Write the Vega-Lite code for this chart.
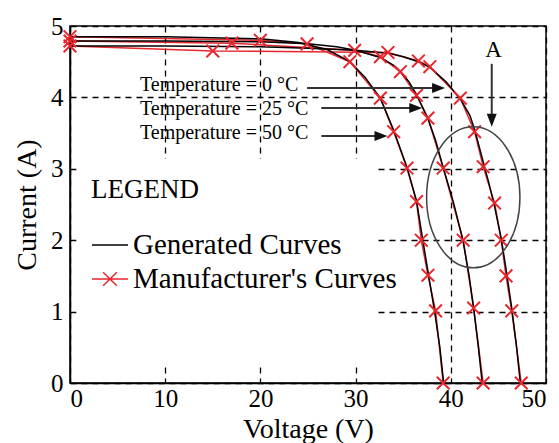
{
  "$schema": "https://vega.github.io/schema/vega-lite/v6.json",
  "width": 476,
  "height": 357,
  "autosize": "none",
  "padding": {"left": 70, "top": 26, "right": 13, "bottom": 60},
  "background": "white",
  "config": {
    "view": {"stroke": "black", "strokeWidth": 1.5},
    "font": "Liberation Serif",
    "axis": {
      "domainColor": "black", "domainWidth": 1.5, "ticks": false,
      "labelFont": "Liberation Serif", "labelFontSize": 25, "labelColor": "black",
      "titleFont": "Liberation Serif", "titleFontSize": 28, "titleFontWeight": "normal", "titleColor": "black",
      "grid": true, "gridColor": "black", "gridDash": [6, 5], "gridWidth": 1.3, "gridOpacity": 1
    },
    "axisX": {"labelPadding": 3, "titlePadding": 4},
    "axisY": {"labelPadding": 7, "titlePadding": 9}
  },
  "datasets": {
    "box": [{"V": 0.7, "V2": 32.2, "I": 0.28, "I2": 3.14}],
    "curves": [
      {"series": "Manufacturer's Curves", "temp": "0", "V": 0, "I": 4.72},
      {"series": "Manufacturer's Curves", "temp": "0", "V": 15, "I": 4.65},
      {"series": "Manufacturer's Curves", "temp": "0", "V": 33.4, "I": 4.63},
      {"series": "Manufacturer's Curves", "temp": "0", "V": 36.6, "I": 4.51},
      {"series": "Manufacturer's Curves", "temp": "0", "V": 37.8, "I": 4.43},
      {"series": "Manufacturer's Curves", "temp": "0", "V": 41.0, "I": 3.99},
      {"series": "Manufacturer's Curves", "temp": "0", "V": 42.5, "I": 3.52},
      {"series": "Manufacturer's Curves", "temp": "0", "V": 43.4, "I": 3.03},
      {"series": "Manufacturer's Curves", "temp": "0", "V": 44.6, "I": 2.52},
      {"series": "Manufacturer's Curves", "temp": "0", "V": 45.3, "I": 2.0},
      {"series": "Manufacturer's Curves", "temp": "0", "V": 45.8, "I": 1.5},
      {"series": "Manufacturer's Curves", "temp": "0", "V": 46.4, "I": 1.01},
      {"series": "Manufacturer's Curves", "temp": "0", "V": 47.4, "I": 0},
      {"series": "Manufacturer's Curves", "temp": "25", "V": 0, "I": 4.79},
      {"series": "Manufacturer's Curves", "temp": "25", "V": 17, "I": 4.76},
      {"series": "Manufacturer's Curves", "temp": "25", "V": 29.9, "I": 4.66},
      {"series": "Manufacturer's Curves", "temp": "25", "V": 32.6, "I": 4.57},
      {"series": "Manufacturer's Curves", "temp": "25", "V": 34.7, "I": 4.36},
      {"series": "Manufacturer's Curves", "temp": "25", "V": 36.4, "I": 4.03},
      {"series": "Manufacturer's Curves", "temp": "25", "V": 37.6, "I": 3.71},
      {"series": "Manufacturer's Curves", "temp": "25", "V": 39.2, "I": 3.01},
      {"series": "Manufacturer's Curves", "temp": "25", "V": 41.3, "I": 2.0},
      {"series": "Manufacturer's Curves", "temp": "25", "V": 42.4, "I": 1.05},
      {"series": "Manufacturer's Curves", "temp": "25", "V": 43.4, "I": 0},
      {"series": "Manufacturer's Curves", "temp": "50", "V": 0, "I": 4.85},
      {"series": "Manufacturer's Curves", "temp": "50", "V": 20, "I": 4.8},
      {"series": "Manufacturer's Curves", "temp": "50", "V": 24.9, "I": 4.75},
      {"series": "Manufacturer's Curves", "temp": "50", "V": 29.4, "I": 4.5},
      {"series": "Manufacturer's Curves", "temp": "50", "V": 32.6, "I": 3.99},
      {"series": "Manufacturer's Curves", "temp": "50", "V": 34.0, "I": 3.52},
      {"series": "Manufacturer's Curves", "temp": "50", "V": 35.4, "I": 3.01},
      {"series": "Manufacturer's Curves", "temp": "50", "V": 36.4, "I": 2.54},
      {"series": "Manufacturer's Curves", "temp": "50", "V": 36.9, "I": 2.0},
      {"series": "Manufacturer's Curves", "temp": "50", "V": 37.6, "I": 1.51},
      {"series": "Manufacturer's Curves", "temp": "50", "V": 38.4, "I": 1.01},
      {"series": "Manufacturer's Curves", "temp": "50", "V": 39.2, "I": 0},
      {"series": "Generated Curves", "temp": "0", "V": 0, "I": 4.72},
      {"series": "Generated Curves", "temp": "0", "V": 10, "I": 4.72},
      {"series": "Generated Curves", "temp": "0", "V": 20, "I": 4.71},
      {"series": "Generated Curves", "temp": "0", "V": 25, "I": 4.69},
      {"series": "Generated Curves", "temp": "0", "V": 30, "I": 4.66},
      {"series": "Generated Curves", "temp": "0", "V": 33.4, "I": 4.62},
      {"series": "Generated Curves", "temp": "0", "V": 35, "I": 4.57},
      {"series": "Generated Curves", "temp": "0", "V": 36.6, "I": 4.5},
      {"series": "Generated Curves", "temp": "0", "V": 37.8, "I": 4.42},
      {"series": "Generated Curves", "temp": "0", "V": 39.5, "I": 4.22},
      {"series": "Generated Curves", "temp": "0", "V": 41, "I": 3.98},
      {"series": "Generated Curves", "temp": "0", "V": 42, "I": 3.75},
      {"series": "Generated Curves", "temp": "0", "V": 42.5, "I": 3.55},
      {"series": "Generated Curves", "temp": "0", "V": 43.4, "I": 3.1},
      {"series": "Generated Curves", "temp": "0", "V": 44.0, "I": 2.8},
      {"series": "Generated Curves", "temp": "0", "V": 44.6, "I": 2.47},
      {"series": "Generated Curves", "temp": "0", "V": 45.3, "I": 2.02},
      {"series": "Generated Curves", "temp": "0", "V": 45.8, "I": 1.6},
      {"series": "Generated Curves", "temp": "0", "V": 46.4, "I": 1.05},
      {"series": "Generated Curves", "temp": "0", "V": 46.9, "I": 0.52},
      {"series": "Generated Curves", "temp": "0", "V": 47.3, "I": 0},
      {"series": "Generated Curves", "temp": "25", "V": 0, "I": 4.79},
      {"series": "Generated Curves", "temp": "25", "V": 10, "I": 4.79},
      {"series": "Generated Curves", "temp": "25", "V": 20, "I": 4.78},
      {"series": "Generated Curves", "temp": "25", "V": 25, "I": 4.75},
      {"series": "Generated Curves", "temp": "25", "V": 28, "I": 4.71},
      {"series": "Generated Curves", "temp": "25", "V": 30, "I": 4.66},
      {"series": "Generated Curves", "temp": "25", "V": 32.6, "I": 4.56},
      {"series": "Generated Curves", "temp": "25", "V": 34, "I": 4.45},
      {"series": "Generated Curves", "temp": "25", "V": 34.7, "I": 4.36},
      {"series": "Generated Curves", "temp": "25", "V": 35.6, "I": 4.22},
      {"series": "Generated Curves", "temp": "25", "V": 36.4, "I": 4.04},
      {"series": "Generated Curves", "temp": "25", "V": 37.6, "I": 3.7},
      {"series": "Generated Curves", "temp": "25", "V": 38.4, "I": 3.4},
      {"series": "Generated Curves", "temp": "25", "V": 39.2, "I": 3.02},
      {"series": "Generated Curves", "temp": "25", "V": 40.3, "I": 2.52},
      {"series": "Generated Curves", "temp": "25", "V": 41.3, "I": 1.98},
      {"series": "Generated Curves", "temp": "25", "V": 41.9, "I": 1.52},
      {"series": "Generated Curves", "temp": "25", "V": 42.4, "I": 1.05},
      {"series": "Generated Curves", "temp": "25", "V": 42.9, "I": 0.5},
      {"series": "Generated Curves", "temp": "25", "V": 43.3, "I": 0},
      {"series": "Generated Curves", "temp": "50", "V": 0, "I": 4.85},
      {"series": "Generated Curves", "temp": "50", "V": 10, "I": 4.85},
      {"series": "Generated Curves", "temp": "50", "V": 20, "I": 4.82},
      {"series": "Generated Curves", "temp": "50", "V": 24, "I": 4.77},
      {"series": "Generated Curves", "temp": "50", "V": 27, "I": 4.67},
      {"series": "Generated Curves", "temp": "50", "V": 29.4, "I": 4.5},
      {"series": "Generated Curves", "temp": "50", "V": 31, "I": 4.28},
      {"series": "Generated Curves", "temp": "50", "V": 32.6, "I": 3.99},
      {"series": "Generated Curves", "temp": "50", "V": 34, "I": 3.54},
      {"series": "Generated Curves", "temp": "50", "V": 35.4, "I": 3.02},
      {"series": "Generated Curves", "temp": "50", "V": 36.4, "I": 2.55},
      {"series": "Generated Curves", "temp": "50", "V": 37.0, "I": 2.05},
      {"series": "Generated Curves", "temp": "50", "V": 37.65, "I": 1.52},
      {"series": "Generated Curves", "temp": "50", "V": 38.3, "I": 1.0},
      {"series": "Generated Curves", "temp": "50", "V": 38.85, "I": 0.5},
      {"series": "Generated Curves", "temp": "50", "V": 39.25, "I": 0}
    ],
    "labels": [
      {"text": "Temperature = 0 °C", "V": 7.35, "I": 4.18},
      {"text": "Temperature = 25 °C", "V": 7.35, "I": 3.84},
      {"text": "Temperature = 50 °C", "V": 7.35, "I": 3.5}
    ],
    "arrows": [
      {"V": 24.9, "I": 4.13, "V2": 39.0, "I2": 4.13},
      {"V": 26.4, "I": 3.85, "V2": 36.6, "I2": 3.85},
      {"V": 26.4, "I": 3.46, "V2": 32.9, "I2": 3.46},
      {"V": 44.3, "I": 4.47, "V2": 44.3, "I2": 3.75}
    ],
    "heads": [
      {"V": 39.4, "I": 4.13, "dir": "right"},
      {"V": 37.0, "I": 3.85, "dir": "right"},
      {"V": 33.35, "I": 3.46, "dir": "right"},
      {"V": 44.3, "I": 3.59, "dir": "down"}
    ],
    "notes": [{"text": "A", "V": 44.5, "I": 4.66}],
    "ellipse": [{"V": 42.36, "I": 2.6}]
  },
  "layer": [
    {
      "data": {"name": "box"},
      "mark": {"type": "rect", "fill": "white", "stroke": null},
      "encoding": {
        "x": {"field": "V", "type": "quantitative", "scale": {"domain": [0, 50], "nice": false}, "axis": {"values": [0, 10, 20, 30, 40, 50], "format": "d", "title": "Voltage (V)"}},
        "x2": {"field": "V2"},
        "y": {"field": "I", "type": "quantitative", "scale": {"domain": [0, 5], "nice": false}, "axis": {"values": [0, 1, 2, 3, 4, 5], "format": "d", "title": "Current (A)"}},
        "y2": {"field": "I2"}
      }
    },
    {
      "data": {"name": "curves"},
      "transform": [{"filter": "datum.series === \"Manufacturer's Curves\""}],
      "mark": {"type": "line", "strokeWidth": 1.5},
      "encoding": {
        "x": {"field": "V", "type": "quantitative", "title": "Voltage (V)"},
        "y": {"field": "I", "type": "quantitative", "title": "Current (A)"},
        "detail": {"field": "temp"},
        "color": {
          "field": "series", "type": "nominal",
          "scale": {"domain": ["Generated Curves", "Manufacturer's Curves"], "range": ["black", "#e8262d"]},
          "legend": {
            "orient": "none", "legendX": 21, "legendY": 151, "title": "LEGEND",
            "titleFont": "Liberation Serif", "titleFontSize": 27, "titleFontWeight": "normal", "titleColor": "black", "titlePadding": 22,
            "labelFont": "Liberation Serif", "labelFontSize": 29, "labelColor": "black", "labelOffset": 4, "labelLimit": 400,
            "symbolType": "stroke", "symbolSize": 1296, "symbolStrokeWidth": 1.5, "rowPadding": 0, "padding": 0,
            "encoding": {"symbols": {"shape": {"condition": {"test": "datum.value === \"Manufacturer's Curves\"", "value": "M-1,0L1,0M-0.38,-0.38L0.38,0.38M-0.38,0.38L0.38,-0.38"}, "value": "stroke"}}}
          }
        }
      }
    },
    {
      "data": {"name": "curves"},
      "transform": [{"filter": "datum.series === 'Generated Curves'"}],
      "mark": {"type": "line", "strokeWidth": 1.5},
      "encoding": {
        "x": {"field": "V", "type": "quantitative", "title": "Voltage (V)"},
        "y": {"field": "I", "type": "quantitative", "title": "Current (A)"},
        "detail": {"field": "temp"},
        "color": {"field": "series", "type": "nominal"}
      }
    },
    {
      "data": {"name": "curves"},
      "transform": [{"filter": "datum.series === \"Manufacturer's Curves\""}],
      "mark": {"type": "point", "shape": "M-1,-1L1,1M-1,1L1,-1", "size": 160, "filled": false, "stroke": "#e8262d", "strokeWidth": 2, "opacity": 1},
      "encoding": {
        "x": {"field": "V", "type": "quantitative", "title": "Voltage (V)"},
        "y": {"field": "I", "type": "quantitative", "title": "Current (A)"}
      }
    },
    {
      "data": {"name": "labels"},
      "mark": {"type": "text", "align": "left", "baseline": "middle", "font": "Liberation Serif", "fontSize": 20, "color": "black"},
      "encoding": {
        "x": {"field": "V", "type": "quantitative", "title": "Voltage (V)"},
        "y": {"field": "I", "type": "quantitative", "title": "Current (A)"},
        "text": {"field": "text"}
      }
    },
    {
      "data": {"name": "arrows"},
      "mark": {"type": "rule", "color": "#333333", "strokeWidth": 2},
      "encoding": {
        "x": {"field": "V", "type": "quantitative", "title": "Voltage (V)"},
        "y": {"field": "I", "type": "quantitative", "title": "Current (A)"},
        "x2": {"field": "V2"},
        "y2": {"field": "I2"}
      }
    },
    {
      "data": {"name": "heads"},
      "mark": {"type": "point", "filled": true, "size": 169, "color": "#111111", "opacity": 1},
      "encoding": {
        "x": {"field": "V", "type": "quantitative", "title": "Voltage (V)"},
        "y": {"field": "I", "type": "quantitative", "title": "Current (A)"},
        "shape": {"field": "dir", "type": "nominal", "scale": {"domain": ["right", "down"], "range": ["M0,0L-2,-0.77L-2,0.77Z", "M0,0L-0.77,-2L0.77,-2Z"]}, "legend": null}
      }
    },
    {
      "data": {"name": "notes"},
      "mark": {"type": "text", "align": "center", "baseline": "middle", "font": "Liberation Serif", "fontSize": 23, "color": "black"},
      "encoding": {
        "x": {"field": "V", "type": "quantitative", "title": "Voltage (V)"},
        "y": {"field": "I", "type": "quantitative", "title": "Current (A)"},
        "text": {"field": "text"}
      }
    },
    {
      "data": {"name": "ellipse"},
      "mark": {"type": "point", "filled": false, "shape": "M0.662,0C0.662,0.552 0.366,1 0,1C-0.366,1 -0.662,0.552 -0.662,0C-0.662,-0.552 -0.366,-1 0,-1C0.366,-1 0.662,-0.552 0.662,0Z", "size": 19881, "stroke": "#444444", "strokeWidth": 1.5, "opacity": 1},
      "encoding": {
        "x": {"field": "V", "type": "quantitative", "title": "Voltage (V)"},
        "y": {"field": "I", "type": "quantitative", "title": "Current (A)"}
      }
    }
  ]
}
